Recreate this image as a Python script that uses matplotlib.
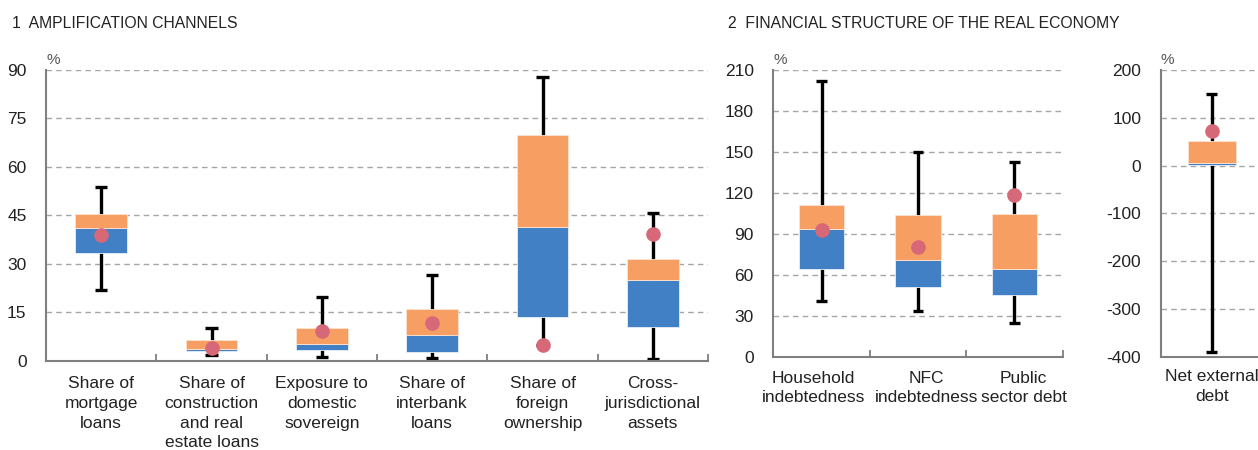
import numpy as np
import matplotlib.pyplot as plt
import matplotlib.transforms as mtransforms

plt.rcParams['font.family'] = ['Liberation Sans', 'DejaVu Sans']
plt.rcParams['axes.unicode_minus'] = False

# Panel 1: amplification channels (%)
cats_1 = ['Share of\nmortgage\nloans', 'Share of\nconstruction\nand real\nestate loans',
          'Exposure to\ndomestic\nsovereign', 'Share of\ninterbank\nloans',
          'Share of\nforeign\nownership', 'Cross-\njurisdictional\nassets']
wmin_1 = [21.9, 1.9, 1.1, 0.8, 4.9, 0.6]
q1_1 = [33.4, 3.1, 3.3, 2.7, 13.6, 10.3]
med_1 = [41.1, 3.7, 5.2, 8.0, 41.4, 25.0]
q3_1 = [45.5, 6.3, 10.2, 16.1, 69.8, 31.6]
wmax_1 = [53.9, 10.0, 19.6, 26.6, 87.8, 45.7]
dot_1 = [38.8, 3.8, 9.3, 11.6, 4.9, 39.3]

# Panel 2: financial structure of the real economy (%)
cats_2 = ['Household\nindebtedness', 'NFC\nindebtedness', 'Public\nsector debt']
wmin_2 = [40.8, 33.7, 24.9]
q1_2 = [64.5, 51.3, 44.9]
med_2 = [93.8, 70.8, 64.5]
q3_2 = [110.9, 103.8, 104.8]
wmax_2 = [201.7, 150.2, 142.6]
dot_2 = [93.0, 80.1, 118.7]

# Panel 3: net external debt (%)
cats_3 = ['Net external\ndebt']
wmin_3 = [-391]
q1_3 = [0.4]
med_3 = [4.6]
q3_3 = [50.6]
wmax_3 = [150.4]
dot_3 = [71.6]

blue = '#4180c4'
orange = '#f79f62'
pink = '#d66878'
grey = '#7f7f7f'


def panel(ax, cats, wmin, q1, med, q3, wmax, dot, ylim, yticks, lab_pad, shifts=None):
    x = np.arange(len(cats))
    ax.vlines(x, wmin, wmax, color='black', lw=2.4, zorder=2)
    ax.hlines(wmax, x - 0.055, x + 0.055, color='black', lw=2.4, zorder=2)
    ax.hlines(wmin, x - 0.055, x + 0.055, color='black', lw=2.4, zorder=2)
    ax.bar(x, np.array(med) - np.array(q1), 0.47, bottom=q1, color=blue,
           edgecolor='#e8eef8', lw=0.6, zorder=3)
    ax.bar(x, np.array(q3) - np.array(med), 0.47, bottom=med, color=orange,
           edgecolor='#fbe3d2', lw=0.6, zorder=3)
    ax.plot(x, dot, 'o', color=pink, ms=9.5, zorder=4)
    ax.set_xlim(-0.5, len(cats) - 0.5)
    ax.set_ylim(*ylim)
    ax.set_yticks(yticks)
    ax.yaxis.grid(True, ls=(0, (4, 3)), color='#a6a6a6', lw=1)
    ax.set_axisbelow(True)
    ax.set_xticks(x)
    if shifts is None:
        ax.set_xticklabels(cats, fontsize=12.5, color='#222222', linespacing=1.4)
    else:
        # category labels nudged sideways as in the original
        ax.set_xticklabels([''] * len(cats))
        base = ax.get_xaxis_transform()
        for xi, c, dx in zip(x, cats, shifts):
            tr = mtransforms.offset_copy(base, fig=ax.figure, x=dx, y=-lab_pad - 1, units='points')
            ax.text(xi, 0, c, transform=tr, ha='center', va='top', fontsize=12.5,
                    color='#222222', linespacing=1.4)
    ax.set_xticks(np.arange(len(cats)) + 0.5, minor=True)
    ax.tick_params(axis='x', which='major', length=0, pad=lab_pad)
    ax.tick_params(axis='x', which='minor', direction='in', length=5, color=grey, width=1.3)
    ax.tick_params(axis='y', length=0, pad=14, labelsize=12.5, labelcolor='#222222')
    for s in ['top', 'right']:
        ax.spines[s].set_visible(False)
    for s in ['left', 'bottom']:
        ax.spines[s].set_color(grey)
        ax.spines[s].set_linewidth(1.5)
    ax.text(0, 1.012, '%', transform=ax.transAxes, fontsize=11, color='#555555',
            ha='left', va='bottom')


fig = plt.figure(figsize=(12.58, 4.5), dpi=100)
ax1 = fig.add_axes([0.03657, 0.19844, 0.52623, 0.646])
ax2 = fig.add_axes([0.6147, 0.20733, 0.23005, 0.6371])
ax3 = fig.add_axes([0.92266, 0.20733, 0.0811, 0.6371])

panel(ax1, cats_1, wmin_1, q1_1, med_1, q3_1, wmax_1, dot_1, (0, 90), range(0, 91, 15), 11)
panel(ax2, cats_2, wmin_2, q1_2, med_2, q3_2, wmax_2, dot_2, (0, 210), range(0, 211, 30), 9,
      shifts=[-6, 6, 6.5])
panel(ax3, cats_3, wmin_3, q1_3, med_3, q3_3, wmax_3, dot_3, (-400, 200), range(-400, 201, 100), 9)
ax3.tick_params(axis='x', which='minor', length=0)

fig.text(12 / 1258, 1 - 23 / 450, '1  AMPLIFICATION CHANNELS', fontsize=11.3,
         color='#222222', va='center', ha='left')
fig.text(728 / 1258, 1 - 23 / 450, '2  FINANCIAL STRUCTURE OF THE REAL ECONOMY', fontsize=11.3,
         color='#222222', va='center', ha='left')

fig.savefig('out.png', dpi=100)
